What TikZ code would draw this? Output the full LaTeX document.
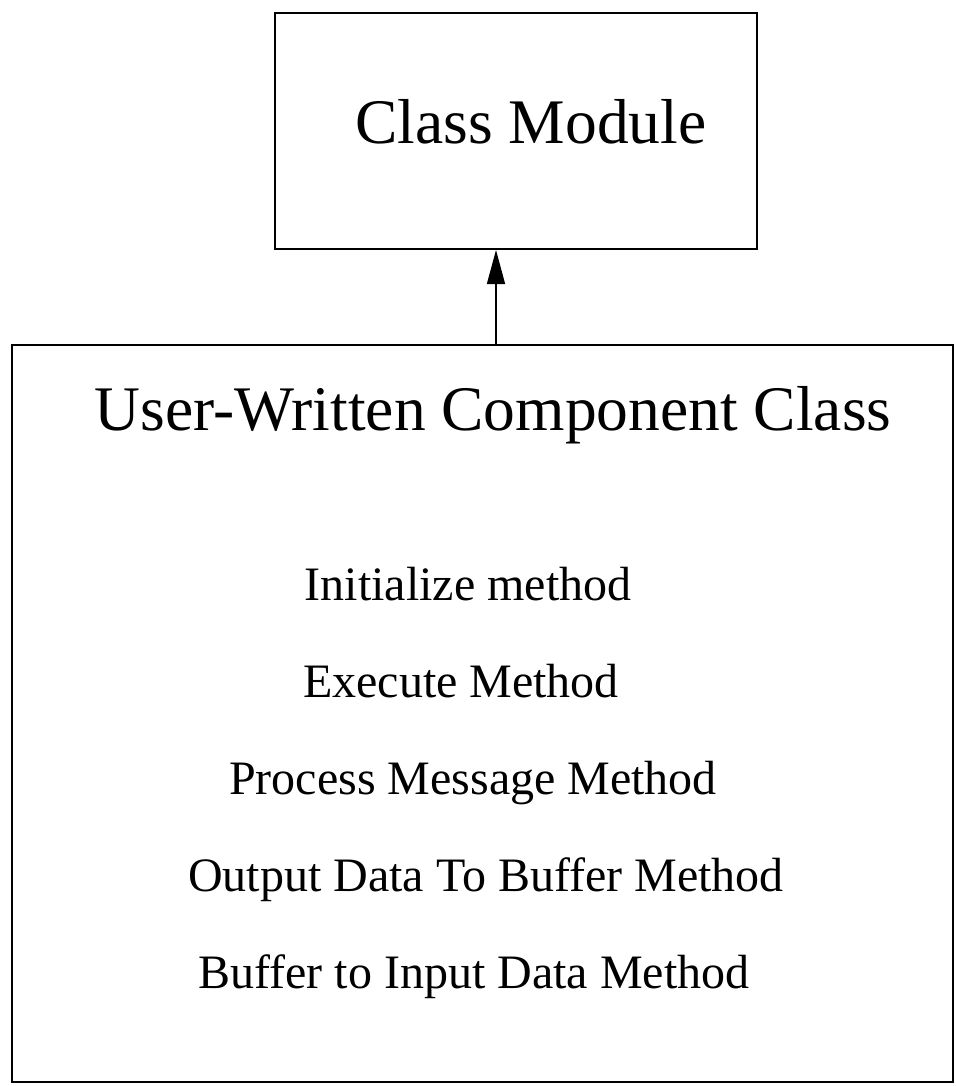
\documentclass[tikz,border=0pt]{standalone}
\usepackage{fontspec}
\setmainfont{Liberation Serif}
\usetikzlibrary{arrows.meta}

\begin{document}
\begin{tikzpicture}[x=0.5pt, y=-0.5pt, line width = 1pt,
  box/.style={draw, inner sep=0pt},
  heading/.style={font=\fontsize{31.75}{36}\selectfont, anchor=base},
  method/.style={font=\fontsize{24}{28}\selectfont, anchor=base}]

\useasboundingbox (0,0) rectangle (956,1086);

\node (module) [box, minimum width=241pt, minimum height=118pt] at (516,131) {};
\node (component) [box, minimum width=470.5pt, minimum height=368.5pt] at (482.5,713.5) {};

\node (moduletxt) [heading] at (531,143) {Class Module};
\node (componenttxt) [heading] at (493,430) {User-Written Component Class};

\node (init) [method] at (468,600) {Initialize method};
\node (exec) [method] at (461,697) {Execute Method};
\node (procmsg) [method] at (473,794) {Process Message Method};
\node (outbuf) [method] at (486,891) {Output Data To Buffer Method};
\node (bufin) [method] at (474,988) {Buffer to Input Data Method};

\coordinate (link) at (496,0);
\draw[line width=0.75pt, -{Triangle[length=17pt,width=9pt]}]
  (component.north -| link) -- (module.south -| link);
\end{tikzpicture}
\end{document}
